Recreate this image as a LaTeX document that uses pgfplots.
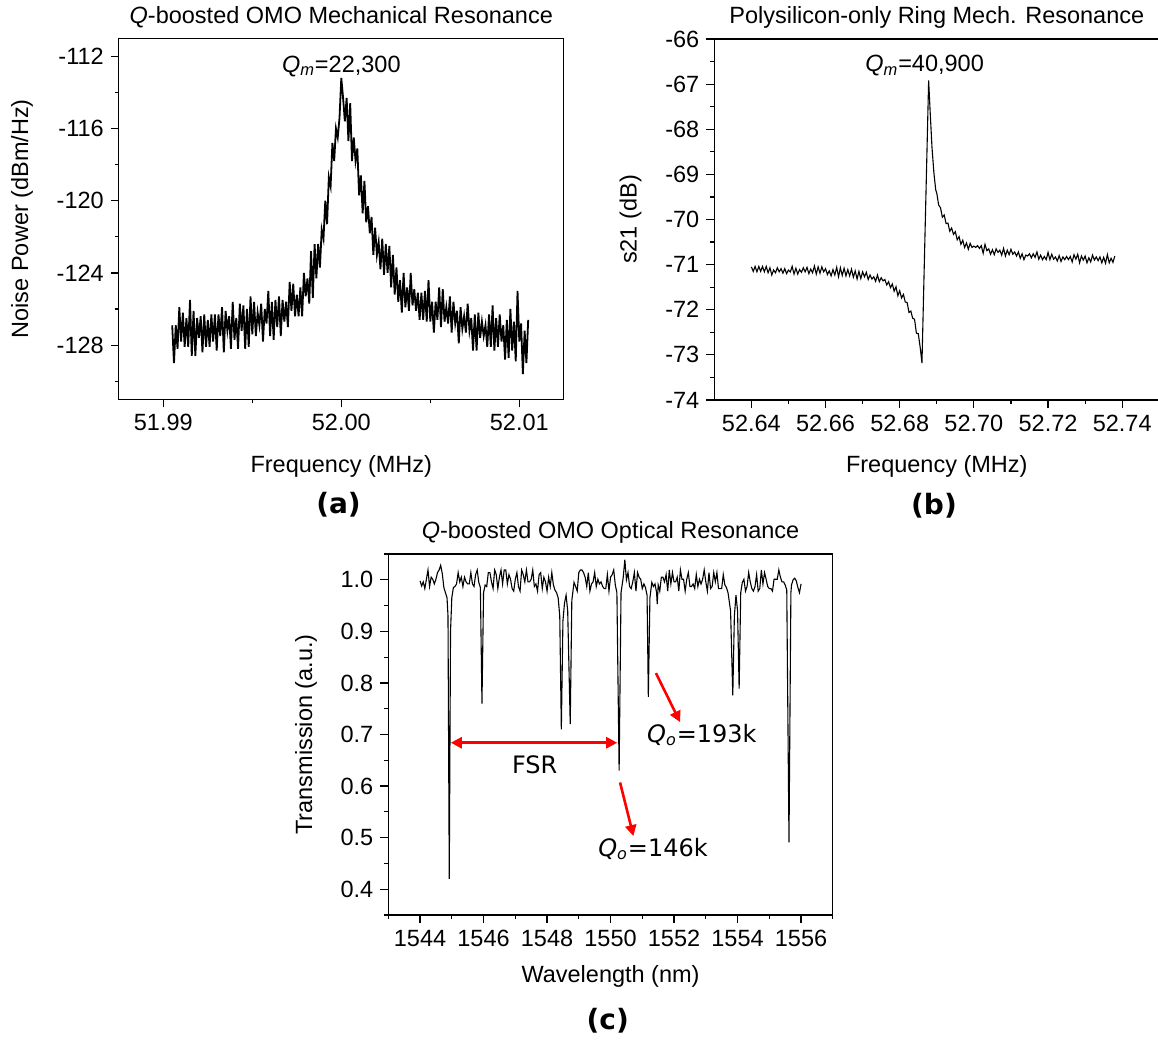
\documentclass[border=0pt]{standalone}
\usepackage{fontspec}
\setmainfont{Liberation Sans}
\newfontfamily\dejavu{DejaVu Sans}
\usepackage{pgfplots}
\pgfplotsset{compat=1.18}
\usetikzlibrary{arrows.meta}

\newcommand{\lbl}{\fontsize{11.75}{14}\selectfont}
\pgfplotsset{
  panel/.style={
    scale only axis, width=222.5pt, height=180.5pt,
    axis line style={line width=0.6pt},
    every tick/.style={line width=0.6pt, black},
    tick align=outside,
    major tick length=4pt, minor tick length=2pt,
    tick pos=left,
    /pgf/number format/assume math mode=true,
    /pgf/number format/1000 sep={},
    tick label style={font=\lbl},
    label style={font=\lbl},
    title style={font=\lbl, at={(0.5,1)}, anchor=base, yshift=1.5pt},
    x label style={at={(axis description cs:0.5,-0.185)}, anchor=center},
  },
}

\begin{document}
\begin{tikzpicture}

% ---------------- (a) ----------------
\begin{axis}[panel,
  at={(59.4pt,321.35pt)}, anchor=south west,
  xmin=51.9875, xmax=52.0125, ymin=-131, ymax=-111,
  xtick={51.99,52,52.01}, minor xtick={51.995,52.005},
  ytick={-128,-124,-120,-116,-112}, minor ytick={-130,-126,-122,-118,-114},
  xticklabel style={/pgf/number format/.cd, fixed, fixed zerofill, precision=2},
  title={\textit{Q}-boosted OMO Mechanical Resonance},
  xlabel={Frequency (MHz)}, ylabel={Noise Power (dBm/Hz)},
  y label style={at={(axis description cs:-0.2175,0.5)}, anchor=center},
]
\addplot[black, line width=0.9pt] coordinates {
(51.9905,-126.9)(51.9906,-129.0)(51.9907,-126.9)(51.9908,-128.2)(51.9909,-125.9)(51.9910,-127.8)(51.9911,-126.2)(51.9912,-128.1)(51.9913,-126.5)(51.9914,-128.1)
(51.9915,-125.5)(51.9916,-128.6)(51.9917,-126.1)(51.9918,-128.6)(51.9919,-126.5)(51.9920,-127.6)(51.9921,-126.4)(51.9922,-128.4)(51.9923,-126.3)(51.9924,-128.1)
(51.9925,-126.6)(51.9926,-128.1)(51.9927,-126.3)(51.9928,-127.8)(51.9929,-126.3)(51.9930,-128.3)(51.9931,-126.3)(51.9932,-127.5)(51.9933,-125.9)(51.9934,-128.4)
(51.9935,-126.1)(51.9936,-127.2)(51.9937,-126.4)(51.9938,-128.2)(51.9939,-125.6)(51.9940,-127.7)(51.9941,-126.5)(51.9942,-128.2)(51.9943,-125.7)(51.9944,-127.2)
(51.9945,-125.8)(51.9946,-128.2)(51.9947,-126.0)(51.9948,-128.1)(51.9949,-125.3)(51.9950,-127.4)(51.9951,-125.6)(51.9952,-127.5)(51.9953,-126.2)(51.9954,-126.9)
(51.9955,-125.7)(51.9956,-127.8)(51.9957,-126.0)(51.9958,-126.8)(51.9959,-125.0)(51.9960,-127.5)(51.9961,-125.6)(51.9962,-127.7)(51.9963,-125.5)(51.9964,-127.0)
(51.9965,-125.3)(51.9966,-127.5)(51.9967,-125.5)(51.9968,-126.7)(51.9969,-125.6)(51.9970,-127.0)(51.9971,-124.5)(51.9972,-126.1)(51.9973,-124.6)(51.9974,-126.4)
(51.9975,-125.2)(51.9976,-126.4)(51.9977,-124.8)(51.9978,-126.4)(51.9979,-124.0)(51.9980,-125.3)(51.9981,-124.3)(51.9982,-125.7)(51.9983,-122.8)(51.9984,-125.4)
(51.9985,-122.4)(51.9986,-124.3)(51.9987,-122.4)(51.9988,-123.7)(51.9989,-121.6)(51.9990,-122.1)(51.9991,-120.0)(51.9992,-121.3)(51.9993,-118.7)(51.9994,-119.2)
(51.9995,-116.8)(51.9996,-117.8)(51.9997,-116.0)(51.9998,-116.5)(51.9999,-115.4)(52.0000,-113.2)(52.0001,-114.3)(52.0002,-115.6)(52.0003,-114.3)(52.0004,-116.7)
(52.0005,-114.6)(52.0006,-117.8)(52.0007,-116.5)(52.0008,-117.8)(52.0009,-117.1)(52.0010,-119.7)(52.0011,-118.6)(52.0012,-120.7)(52.0013,-118.9)(52.0014,-121.2)
(52.0015,-120.3)(52.0016,-121.8)(52.0017,-120.9)(52.0018,-123.0)(52.0019,-121.5)(52.0020,-123.0)(52.0021,-122.3)(52.0022,-123.8)(52.0023,-122.1)(52.0024,-124.1)
(52.0025,-122.4)(52.0026,-124.0)(52.0027,-122.5)(52.0028,-124.8)(52.0029,-123.0)(52.0030,-125.2)(52.0031,-123.7)(52.0032,-125.6)(52.0033,-124.4)(52.0034,-126.2)
(52.0035,-124.0)(52.0036,-125.9)(52.0037,-124.8)(52.0038,-126.1)(52.0039,-124.0)(52.0040,-125.8)(52.0041,-124.9)(52.0042,-126.1)(52.0043,-125.1)(52.0044,-126.6)
(52.0045,-125.1)(52.0046,-126.6)(52.0047,-125.0)(52.0048,-126.7)(52.0049,-124.4)(52.0050,-126.7)(52.0051,-125.6)(52.0052,-127.3)(52.0053,-125.6)(52.0054,-126.6)
(52.0055,-124.8)(52.0056,-127.0)(52.0057,-124.9)(52.0058,-126.7)(52.0059,-125.9)(52.0060,-126.8)(52.0061,-125.3)(52.0062,-127.3)(52.0063,-125.6)(52.0064,-126.8)
(52.0065,-126.1)(52.0066,-127.9)(52.0067,-125.9)(52.0068,-127.1)(52.0069,-126.4)(52.0070,-127.3)(52.0071,-125.7)(52.0072,-127.2)(52.0073,-126.5)(52.0074,-128.3)
(52.0075,-126.3)(52.0076,-128.3)(52.0077,-126.2)(52.0078,-127.6)(52.0079,-126.7)(52.0080,-127.5)(52.0081,-126.9)(52.0082,-128.1)(52.0083,-126.3)(52.0084,-128.1)
(52.0085,-125.8)(52.0086,-128.3)(52.0087,-126.5)(52.0088,-128.1)(52.0089,-126.3)(52.0090,-127.8)(52.0091,-126.9)(52.0092,-128.8)(52.0093,-126.6)(52.0094,-128.7)
(52.0095,-126.0)(52.0096,-128.3)(52.0097,-126.7)(52.0098,-128.9)(52.0099,-125.0)(52.0100,-127.8)(52.0101,-126.8)(52.0102,-129.6)(52.0103,-127.2)(52.0104,-129.0)(52.0105,-126.6)
};
\node[anchor=base, font=\lbl] at (axis cs:52.0000,-112.89) {\textit{Q}\textsubscript{\textit{m}}=22,300};
\end{axis}

% ---------------- (b) ----------------
\begin{axis}[panel,
  at={(357.15pt,321pt)}, anchor=south west,
  xmin=52.63, xmax=52.75, ymin=-74, ymax=-66,
  xtick={52.64,52.66,52.68,52.70,52.72,52.74},
  minor xtick={52.65,52.67,52.69,52.71,52.73},
  ytick={-74,-73,-72,-71,-70,-69,-68,-67,-66},
  minor ytick={-73.5,-72.5,-71.5,-70.5,-69.5,-68.5,-67.5,-66.5},
  xticklabel style={/pgf/number format/.cd, fixed, fixed zerofill, precision=2},
  title={Polysilicon-only Ring Mech. Resonance},
  xlabel={Frequency (MHz)}, ylabel={s21 (dB)},
  y label style={at={(axis description cs:-0.188,0.5)}, anchor=center},
]
\addplot[black, line width=0.55pt] coordinates {
(52.6400,-71.05)(52.6405,-71.15)(52.6410,-71.04)(52.6415,-71.16)(52.6420,-71.04)(52.6425,-71.15)(52.6430,-71.04)(52.6435,-71.16)(52.6440,-71.04)(52.6445,-71.18)
(52.6450,-71.07)(52.6455,-71.23)(52.6460,-71.12)(52.6465,-71.18)(52.6470,-71.07)(52.6475,-71.16)(52.6480,-71.09)(52.6485,-71.19)(52.6490,-71.09)(52.6495,-71.20)
(52.6500,-71.12)(52.6505,-71.16)(52.6510,-71.04)(52.6515,-71.21)(52.6520,-71.08)(52.6525,-71.21)(52.6530,-71.11)(52.6535,-71.17)(52.6540,-71.07)(52.6545,-71.16)
(52.6550,-71.06)(52.6555,-71.20)(52.6560,-71.10)(52.6565,-71.18)(52.6570,-71.03)(52.6575,-71.21)(52.6580,-71.05)(52.6585,-71.19)(52.6590,-71.05)(52.6595,-71.16)
(52.6600,-71.09)(52.6605,-71.22)(52.6610,-71.14)(52.6615,-71.25)(52.6620,-71.11)(52.6625,-71.23)(52.6630,-71.06)(52.6635,-71.27)(52.6640,-71.07)(52.6645,-71.24)
(52.6650,-71.08)(52.6655,-71.25)(52.6660,-71.11)(52.6665,-71.25)(52.6670,-71.10)(52.6675,-71.28)(52.6680,-71.14)(52.6685,-71.32)(52.6690,-71.15)(52.6695,-71.31)
(52.6700,-71.16)(52.6705,-71.27)(52.6710,-71.17)(52.6715,-71.33)(52.6720,-71.23)(52.6725,-71.32)(52.6730,-71.27)(52.6735,-71.37)(52.6740,-71.23)(52.6745,-71.38)
(52.6750,-71.29)(52.6755,-71.36)(52.6760,-71.33)(52.6765,-71.45)(52.6770,-71.38)(52.6775,-71.51)(52.6780,-71.43)(52.6785,-71.59)(52.6790,-71.49)(52.6795,-71.69)
(52.6800,-71.58)(52.6805,-71.74)(52.6810,-71.66)(52.6815,-71.83)(52.6820,-71.84)(52.6825,-72.06)(52.6830,-72.03)(52.6835,-72.19)(52.6840,-72.21)(52.6845,-72.52)
(52.6850,-72.53)(52.6855,-72.82)(52.6860,-73.18)(52.6878,-66.92)(52.6882,-67.60)(52.6887,-68.40)(52.6892,-68.95)(52.6897,-69.34)
(52.6900,-69.42)(52.6905,-69.68)(52.6910,-69.74)(52.6915,-69.95)(52.6920,-69.90)(52.6925,-70.09)(52.6930,-70.08)(52.6935,-70.26)(52.6940,-70.19)(52.6945,-70.33)
(52.6950,-70.27)(52.6955,-70.45)(52.6960,-70.38)(52.6965,-70.55)(52.6970,-70.46)(52.6975,-70.62)(52.6980,-70.52)(52.6985,-70.66)(52.6990,-70.53)(52.6995,-70.62)
(52.7000,-70.59)(52.7005,-70.62)(52.7010,-70.58)(52.7015,-70.64)(52.7020,-70.58)(52.7025,-70.75)(52.7030,-70.55)(52.7035,-70.69)(52.7040,-70.65)(52.7045,-70.77)
(52.7050,-70.67)(52.7055,-70.78)(52.7060,-70.65)(52.7065,-70.73)(52.7070,-70.68)(52.7075,-70.79)(52.7080,-70.64)(52.7085,-70.81)(52.7090,-70.68)(52.7095,-70.78)
(52.7100,-70.66)(52.7105,-70.77)(52.7110,-70.72)(52.7115,-70.81)(52.7120,-70.72)(52.7125,-70.86)(52.7130,-70.76)(52.7135,-70.89)(52.7140,-70.79)(52.7145,-70.81)
(52.7150,-70.76)(52.7155,-70.85)(52.7160,-70.76)(52.7165,-70.84)(52.7170,-70.72)(52.7175,-70.88)(52.7180,-70.79)(52.7185,-70.89)(52.7190,-70.82)(52.7195,-70.89)
(52.7200,-70.73)(52.7205,-70.89)(52.7210,-70.77)(52.7215,-70.88)(52.7220,-70.83)(52.7225,-70.92)(52.7230,-70.80)(52.7235,-70.93)(52.7240,-70.83)(52.7245,-70.89)
(52.7250,-70.82)(52.7255,-70.89)(52.7260,-70.82)(52.7265,-70.94)(52.7270,-70.78)(52.7275,-70.88)(52.7280,-70.77)(52.7285,-70.96)(52.7290,-70.81)(52.7295,-70.90)
(52.7300,-70.81)(52.7305,-70.96)(52.7310,-70.85)(52.7315,-70.94)(52.7320,-70.79)(52.7325,-70.90)(52.7330,-70.83)(52.7335,-70.91)(52.7340,-70.83)(52.7345,-70.96)
(52.7350,-70.84)(52.7355,-70.97)(52.7360,-70.78)(52.7365,-70.96)(52.7370,-70.86)(52.7375,-70.95)(52.7380,-70.81)
};
\node[anchor=base, font=\lbl] at (axis cs:52.6867,-66.73) {\textit{Q}\textsubscript{\textit{m}}=40,900};
\end{axis}

% ---------------- (c) ----------------
\begin{axis}[panel,
  at={(194.15pt,63.5pt)}, anchor=south west, width=222.25pt,
  xmin=1543, xmax=1557, ymin=0.35, ymax=1.05,
  xtick={1544,1546,1548,1550,1552,1554,1556},
  minor xtick={1543,1545,1547,1549,1551,1553,1555,1557},
  ytick={0.4,0.5,0.6,0.7,0.8,0.9,1.0},
  minor ytick={0.35,0.45,0.55,0.65,0.75,0.85,0.95,1.05},
  yticklabel style={/pgf/number format/.cd, fixed, fixed zerofill, precision=1},
  title={\textit{Q}-boosted OMO Optical Resonance},
  title style={yshift=0.5pt},
  xlabel={Wavelength (nm)}, ylabel={Transmission (a.u.)},
  x label style={at={(axis description cs:0.5,-0.17)}, anchor=center},
  y label style={at={(axis description cs:-0.185,0.5)}, anchor=center},
]
\addplot[black, line width=0.55pt] coordinates {
(1544.00,0.998)(1544.05,0.988)(1544.10,0.996)(1544.15,0.983)(1544.20,1.001)(1544.25,1.019)(1544.30,0.987)(1544.35,1.005)(1544.40,1.001)(1544.45,0.992)
(1544.50,1.001)(1544.55,1.014)(1544.60,1.019)(1544.65,1.028)(1544.70,1.012)(1544.75,0.985)(1544.80,0.975)(1544.85,0.965)(1544.88,0.930)(1544.92,0.420)
(1544.96,0.900)(1545.00,0.965)(1545.05,0.985)(1545.10,0.987)(1545.15,0.992)(1545.20,1.014)(1545.25,0.996)(1545.30,1.005)(1545.35,0.987)(1545.40,1.005)
(1545.45,0.996)(1545.50,0.992)(1545.55,0.992)(1545.60,1.014)(1545.65,0.992)(1545.70,0.987)(1545.75,1.010)(1545.80,1.019)(1545.85,0.995)(1545.90,0.985)
(1545.95,0.760)(1546.00,0.975)(1546.05,0.990)(1546.10,0.987)(1546.15,1.014)(1546.20,1.014)(1546.25,0.996)(1546.30,0.983)(1546.35,1.019)(1546.40,1.010)
(1546.45,0.983)(1546.50,1.005)(1546.55,1.019)(1546.60,0.992)(1546.65,1.019)(1546.70,1.019)(1546.75,0.992)(1546.80,1.010)(1546.85,1.001)(1546.90,0.983)
(1546.95,0.978)(1547.00,1.001)(1547.05,1.014)(1547.10,0.987)(1547.15,0.978)(1547.20,1.019)(1547.25,1.010)(1547.30,0.996)(1547.35,1.019)(1547.40,0.996)
(1547.45,0.996)(1547.50,1.001)(1547.55,1.019)(1547.60,0.987)(1547.65,0.992)(1547.70,0.978)(1547.75,1.010)(1547.80,1.014)(1547.85,0.983)(1547.90,1.005)
(1547.95,0.996)(1548.00,0.978)(1548.05,1.005)(1548.10,0.987)(1548.15,1.014)(1548.20,0.990)(1548.25,0.980)(1548.30,0.975)(1548.35,0.965)(1548.40,0.930)
(1548.45,0.710)(1548.50,0.920)(1548.55,0.955)(1548.60,0.970)(1548.65,0.940)(1548.73,0.720)(1548.78,0.960)(1548.85,0.995)(1548.90,0.987)(1548.95,0.978)
(1549.00,1.014)(1549.05,1.019)(1549.10,1.019)(1549.15,1.014)(1549.20,1.005)(1549.25,0.987)(1549.30,1.014)(1549.35,0.978)(1549.40,0.992)(1549.45,0.996)
(1549.50,1.014)(1549.55,0.987)(1549.60,1.001)(1549.65,0.992)(1549.70,0.996)(1549.75,0.987)(1549.80,0.983)(1549.85,0.983)(1549.90,1.010)(1549.95,0.978)
(1550.00,1.005)(1550.05,1.010)(1550.10,1.019)(1550.15,0.990)(1550.20,0.975)(1550.27,0.630)(1550.33,0.975)(1550.40,1.005)(1550.45,1.039)(1550.50,1.000)
(1550.55,1.014)(1550.60,0.987)(1550.65,0.983)(1550.70,0.996)(1550.75,1.014)(1550.80,0.978)(1550.85,1.014)(1550.90,1.005)(1550.95,1.001)(1551.00,0.983)
(1551.05,0.992)(1551.10,0.985)(1551.15,0.970)(1551.19,0.773)(1551.24,0.965)(1551.30,0.995)(1551.35,0.987)(1551.40,0.992)(1551.45,0.975)(1551.47,0.953)
(1551.50,0.990)(1551.55,0.978)(1551.60,1.005)(1551.65,1.005)(1551.70,0.996)(1551.75,1.010)(1551.80,0.978)(1551.85,1.019)(1551.90,0.992)(1551.95,1.014)
(1552.00,0.996)(1552.05,0.996)(1552.10,1.005)(1552.15,0.978)(1552.20,1.019)(1552.25,1.001)(1552.30,1.001)(1552.35,0.978)(1552.40,1.001)(1552.45,1.014)
(1552.50,0.987)(1552.55,0.987)(1552.60,0.992)(1552.65,0.983)(1552.70,1.010)(1552.75,0.987)(1552.80,1.001)(1552.85,0.992)(1552.90,1.001)(1552.95,1.019)
(1553.00,0.996)(1553.05,0.978)(1553.10,1.014)(1553.15,0.983)(1553.20,0.987)(1553.25,1.014)(1553.30,0.996)(1553.35,1.014)(1553.40,0.983)(1553.45,0.983)
(1553.50,0.983)(1553.55,1.010)(1553.60,0.990)(1553.65,0.985)(1553.70,0.975)(1553.78,0.940)(1553.85,0.776)(1553.90,0.930)(1553.95,0.970)(1554.00,0.940)
(1554.05,0.789)(1554.10,0.975)(1554.15,0.995)(1554.20,1.001)(1554.25,0.978)(1554.30,0.987)(1554.35,1.014)(1554.40,0.996)(1554.45,0.983)(1554.50,0.978)
(1554.55,0.987)(1554.60,1.010)(1554.65,0.978)(1554.70,0.983)(1554.75,1.019)(1554.80,0.992)(1554.85,1.014)(1554.90,1.001)(1554.95,0.987)(1555.00,0.983)
(1555.05,0.983)(1555.10,0.978)(1555.15,1.001)(1555.20,1.001)(1555.25,1.001)(1555.30,1.019)(1555.35,1.005)(1555.40,0.996)(1555.45,0.996)(1555.50,0.990)
(1555.55,0.980)(1555.62,0.491)(1555.68,0.975)(1555.70,0.990)(1555.75,1.000)(1555.80,1.003)(1555.85,0.998)(1555.90,0.985)(1555.95,0.975)(1556.00,0.992)
};
\draw[red, line width=1.3pt, {Triangle[length=5.5pt,width=5.5pt]}-{Triangle[length=5.5pt,width=5.5pt]}]
  (axis cs:1544.97,0.684) -- (axis cs:1550.21,0.684);
\draw[red, line width=1.3pt, -{Triangle[length=5.5pt,width=5.5pt]}]
  (axis cs:1551.43,0.819) -- (axis cs:1552.19,0.724);
\draw[red, line width=1.3pt, -{Triangle[length=5.5pt,width=5.5pt]}]
  (axis cs:1550.30,0.607) -- (axis cs:1550.72,0.503);
\node[anchor=base, font=\fontsize{12}{14}\dejavu] at (axis cs:1547.61,0.625) {FSR};
\node[anchor=base west, inner sep=0pt, font=\fontsize{12}{14}\dejavu] at (axis cs:1551.14,0.685) {\textit{Q}\textsubscript{\textit{o}}=193k};
\node[anchor=base west, inner sep=0pt, font=\fontsize{12}{14}\dejavu] at (axis cs:1549.60,0.464) {\textit{Q}\textsubscript{\textit{o}}=146k};
\end{axis}

% panel letters
\node[font=\fontsize{14}{16}\dejavu\bfseries] at (169.25pt,268.5pt) {(a)};
\node[font=\fontsize{14}{16}\dejavu\bfseries] at (467pt,268pt) {(b)};
\node[font=\fontsize{14}{16}\dejavu\bfseries] at (303.85pt,10.5pt) {(c)};

\pgfresetboundingbox
\path[use as bounding box] (0,0) rectangle (579pt,521pt);
\end{tikzpicture}
\end{document}
